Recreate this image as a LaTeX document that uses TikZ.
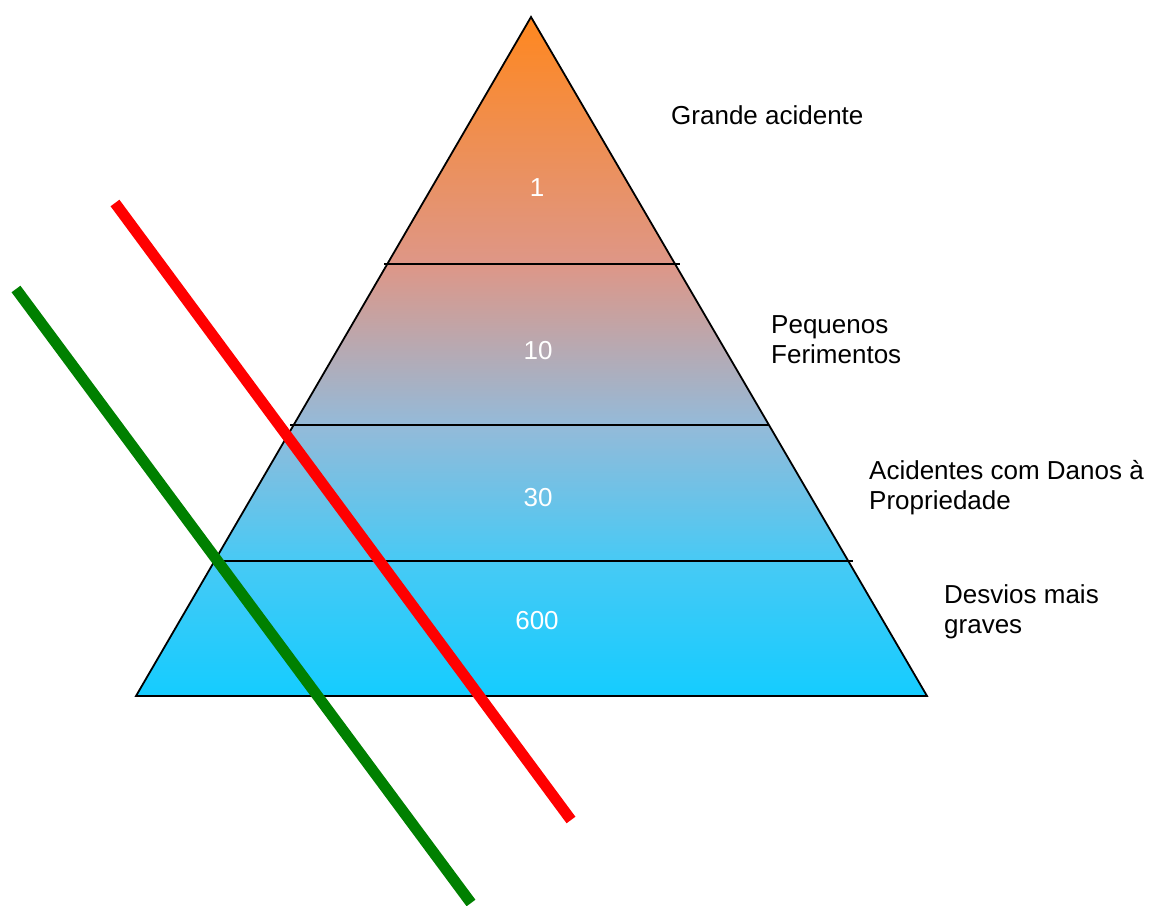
\documentclass[tikz,border=0pt]{standalone}
\usepackage{fontspec}
\setmainfont{Liberation Sans}
\pgfdeclareverticalshading{pyr}{100bp}{
  rgb(0bp)=(0.08,0.80,1.0);
  rgb(25bp)=(0.08,0.80,1.0);
  rgb(34.95bp)=(0.28,0.79,0.96);
  rgb(44.95bp)=(0.58,0.73,0.85);
  rgb(56.8bp)=(0.87,0.59,0.53);
  rgb(75bp)=(1.0,0.53,0.12);
  rgb(100bp)=(1.0,0.53,0.12)}
\begin{document}
\begin{tikzpicture}[x=1pt,y=-1pt,
  lbl/.style={anchor=west,align=left,font=\fontsize{26}{30}\selectfont,inner sep=0pt},
  num/.style={text=white,font=\fontsize{26}{30}\selectfont,inner sep=0pt},
  divline/.style={black,line width=1.8pt},
  cutline/.style={line width=11pt,line cap=butt}]
\useasboundingbox (0,0) rectangle (1150,905);
\coordinate (apex) at (531,17);
\coordinate (bl) at (136,696);
\coordinate (br) at (927,696);
\shade[shading=pyr] (apex) -- (br) -- (bl) -- cycle;
\draw[black,line width=1.8pt,line join=miter] (apex) -- (br) -- (bl) -- cycle;
\coordinate (d1a) at (384,264); \coordinate (d1b) at (680,264);
\coordinate (d2a) at (290,425); \coordinate (d2b) at (769,425);
\coordinate (d3a) at (212,561); \coordinate (d3b) at (853,561);
\draw[divline] (d1a) -- (d1b);
\draw[divline] (d2a) -- (d2b);
\draw[divline] (d3a) -- (d3b);
\node[num] (n1) at (537,188) {1};
\node[num] (n10) at (538,351) {10};
\node[num] (n30) at (538,498) {30};
\node[num] (n600) at (537,621) {600};
\coordinate (r1) at (115,203); \coordinate (r2) at (571,820);
\coordinate (g1) at (16,289); \coordinate (g2) at (471,903);
\draw[cutline,red] (r1) -- (r2);
\draw[cutline,green!50!black] (g1) -- (g2);
\node[lbl] (t1) at (671,115) {Grande acidente};
\node[lbl] (t2) at (771,340) {Pequenos\\Ferimentos};
\node[lbl] (t3) at (869,488) {Acidentes com Danos à\\Propriedade};
\node[lbl] (t4) at (944,612) {Desvios mais\\graves};
\end{tikzpicture}
\end{document}
